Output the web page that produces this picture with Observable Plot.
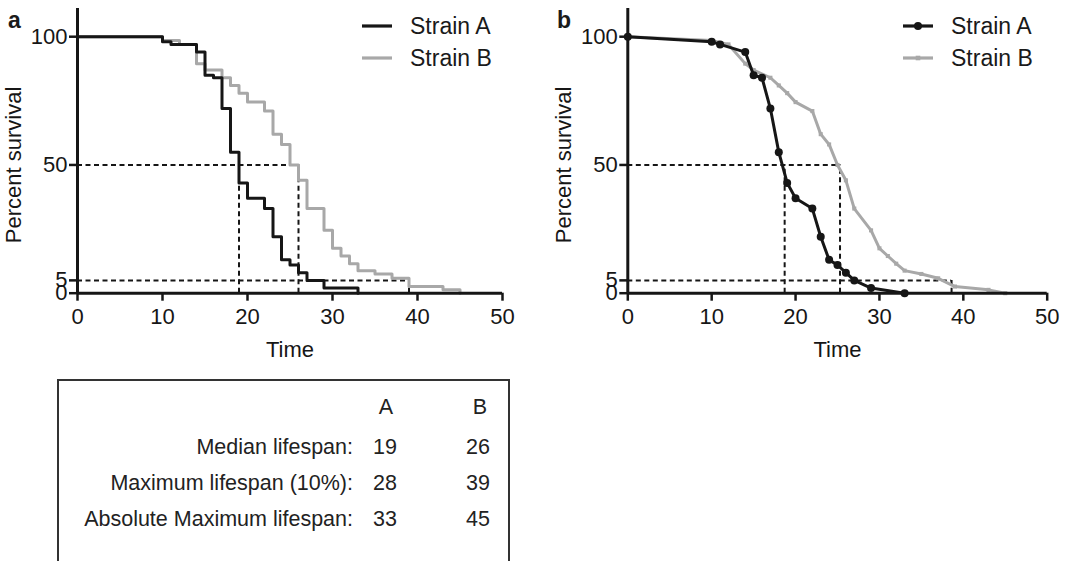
<!DOCTYPE html>
<html>
<head>
<meta charset="utf-8">
<script src="https://cdn.jsdelivr.net/npm/d3@7"></script>
<script src="https://cdn.jsdelivr.net/npm/@observablehq/plot@0.6"></script>
<style>
  html, body { margin: 0; padding: 0; background: #fff; }
  body { width: 1071px; height: 561px; position: relative; overflow: hidden; font-family: "Liberation Sans", Arial, Helvetica, sans-serif; color: #1a1a1a; }
  .abs { position: absolute; }
  .plabel { position: absolute; font-weight: bold; font-size: 23px; line-height: 1; }
  .legend { position: absolute; font-size: 23px; }
  .legend .item { position: absolute; white-space: nowrap; height: 24px; }
  .legend svg { position: absolute; left: 0; top: 0; overflow: visible; }
  .legend span { position: absolute; top: 0; line-height: 24px; }
  #table { position: absolute; left: 57px; top: 379px; width: 449px; height: 220px; border: 2px solid #333; border-bottom: none; }
  #table .cell { position: absolute; font-size: 21.5px; line-height: 24px; white-space: nowrap; color: #222; }
</style>
</head>
<body>
<div id="root"></div>
<script>
// ---------------- data ----------------
const seriesNames = ["Strain A", "Strain B"];
// Kaplan-Meier estimates (time, percent survival)
const timeA = [0, 10, 11, 14, 15, 16, 17, 18, 19, 20, 22, 23, 24, 25, 26, 27, 29, 33];
const survA = [100, 98, 97, 94, 85, 84, 72, 55, 43, 37, 33, 22, 13, 11, 8, 5, 2, 0];
const timeB = [0, 10, 12, 14, 15, 17, 18, 19, 20, 22, 23, 24, 25, 26, 27, 29, 30, 31, 32, 33, 35, 37, 39, 43, 45];
const survB = [100, 98.5, 97, 89.5, 87, 84, 81, 78, 74.5, 71, 62, 58, 50, 44, 33, 24.5, 17.5, 14.5, 11.5, 8.8, 7.5, 5.8, 2.6, 1.3, 0];

const xTicks = [0, 10, 20, 30, 40, 50];
const yTicks = [0, 5, 50, 100];
const yAxisTop = 111;

// reference (dashed) lines: [median A, median B, 5%-crossing B]
const guidesA = [19, 26, 39];
const guidesB = [18.7, 25.3, 38.6];
const guideLevels = [50, 5];

// summary table
const tableHeader = ["A", "B"];
const rowLabels = ["Median lifespan:", "Maximum lifespan (10%):", "Absolute Maximum lifespan:"];
const colA = [19, 28, 33];
const colB = [26, 39, 45];

// ---------------- build ----------------
const FONT = '"Liberation Sans", Arial, Helvetica, sans-serif';
const BLACK = "#161616";
const GREY = "#a8a8a8";

const dataA = timeA.map((t, i) => ({t, s: survA[i]}));
const dataB = timeB.map((t, i) => ({t, s: survB[i]}));

function guideMarks(g) {
  const [medA, medB, max5] = g;
  const dash = {stroke: BLACK, strokeWidth: 2, strokeDasharray: "5,3.5"};
  return [
    Plot.ruleY([guideLevels[0]], {x1: 0, x2: medB, ...dash}),
    Plot.ruleY([guideLevels[1]], {x1: 0, x2: max5, ...dash}),
    Plot.ruleX([medA, medB], {y1: 0, y2: guideLevels[0], ...dash}),
    Plot.ruleX([max5], {y1: 0, y2: guideLevels[1], ...dash})
  ];
}

function axes(labelOffsetY) {
  return [
    Plot.axisX({ticks: xTicks, tickSize: 8, tickPadding: 7, strokeWidth: 2.5, stroke: BLACK,
      label: "Time", labelAnchor: "center", labelOffset: 64, labelArrow: "none"}),
    Plot.axisY({ticks: yTicks, tickSize: 8, tickPadding: 2, strokeWidth: 2.5, stroke: BLACK,
      label: "Percent survival", labelAnchor: "center", labelOffset: labelOffsetY, labelArrow: "none"}),
    Plot.ruleX([0], {y1: 0, y2: yAxisTop, stroke: BLACK, strokeWidth: 3}),
    Plot.ruleY([0], {x1: 0, x2: xTicks[xTicks.length - 1], stroke: BLACK, strokeWidth: 3})
  ];
}

const common = {
  height: 365, marginTop: 36.2, marginBottom: 72.3,
  x: {domain: [0, 50]}, y: {domain: [0, 100]},
  style: {fontFamily: FONT, fontSize: "22px", color: BLACK, background: "transparent", overflow: "visible"}
};

const plotA = Plot.plot({
  ...common, width: 535, marginLeft: 77, marginRight: 33,
  marks: [
    ...guideMarks(guidesA),
    Plot.line(dataB, {x: "t", y: "s", curve: "step-after", stroke: GREY, strokeWidth: 3}),
    Plot.line(dataA, {x: "t", y: "s", curve: "step-after", stroke: BLACK, strokeWidth: 3}),
    ...axes(72)
  ]
});

const plotB = Plot.plot({
  ...common, width: 531, marginLeft: 87.3, marginRight: 24.3,
  marks: [
    ...guideMarks(guidesB),
    Plot.line(dataB, {x: "t", y: "s", stroke: GREY, strokeWidth: 3}),
    Plot.dot(dataB, {x: "t", y: "s", symbol: "square", r: 2.3, fill: GREY, stroke: "none"}),
    Plot.line(dataA, {x: "t", y: "s", stroke: BLACK, strokeWidth: 3}),
    Plot.dot(dataA, {x: "t", y: "s", r: 4, fill: BLACK, stroke: "none"}),
    ...axes(72)
  ]
});

const root = document.getElementById("root");
function place(node, left, top) {
  node.classList.add("abs");
  node.style.left = left + "px";
  node.style.top = top + "px";
  root.appendChild(node);
}
place(plotA, 0, 0);
place(plotB, 540, 0);

// panel labels
function label(txt, left, top) {
  const d = document.createElement("div");
  d.className = "plabel";
  d.textContent = txt;
  d.style.left = left + "px";
  d.style.top = top + "px";
  root.appendChild(d);
}
label("a", 8, 9);
label("b", 557, 9);

// legends
function legend(left, withMarkers) {
  const box = document.createElement("div");
  box.className = "legend";
  box.style.left = left + "px";
  box.style.top = "14px";
  seriesNames.forEach((name, i) => {
    const item = document.createElement("div");
    item.className = "item";
    item.style.top = (i * 32.3) + "px";
    const color = i === 0 ? BLACK : GREY;
    let marker = "";
    if (withMarkers) {
      marker = i === 0
        ? `<circle cx="15" cy="12" r="4" fill="${color}"/>`
        : `<rect x="12.7" y="9.7" width="4.6" height="4.6" fill="${color}"/>`;
    }
    item.innerHTML = `<svg width="30" height="24"><line x1="0" x2="30" y1="12" y2="12" stroke="${color}" stroke-width="3.2"/>${marker}</svg><span style="left:48px">${name}</span>`;
    box.appendChild(item);
  });
  root.appendChild(box);
}
legend(362, false);
legend(903, true);

// table
const table = document.createElement("div");
table.id = "table";
root.appendChild(table);
function cell(txt, x, yc, anchor) {
  const c = document.createElement("div");
  c.className = "cell";
  c.textContent = txt;
  c.style.top = (yc - 379 - 2 - 12) + "px";
  const rel = x - 57 - 2;
  if (anchor === "end") { c.style.right = (449 - rel) + "px"; }
  else if (anchor === "middle") { c.style.left = rel + "px"; c.style.transform = "translateX(-50%)"; }
  else { c.style.left = rel + "px"; }
  table.appendChild(c);
}
const colAx = 386, colBx = 480;
cell(tableHeader[0], colAx, 407, "middle");
cell(tableHeader[1], colBx, 407, "middle");
const rowY = [447, 483, 519];
rowLabels.forEach((lab, i) => {
  cell(lab, 353, rowY[i], "end");
  cell(String(colA[i]), colAx - 1, rowY[i], "middle");
  cell(String(colB[i]), 490, rowY[i], "end");
});
</script>
</body>
</html>
